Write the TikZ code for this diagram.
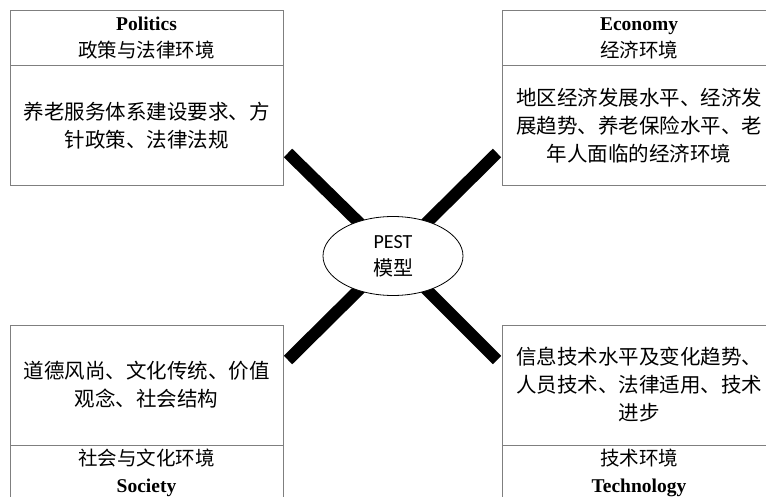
\documentclass[tikz,border=0pt]{standalone}
\usepackage{fontspec}
\setmainfont{Liberation Serif}
\newfontfamily\cjk{Noto Sans CJK SC}
\newfontfamily\pestfont{Carlito}
\usetikzlibrary{shapes.geometric,backgrounds}
\definecolor{boxgray}{HTML}{7F7F7F}

\begin{document}
\begin{tikzpicture}[x=1pt, y=-1pt,
                every node/.style={inner sep=0pt, align=center},
                head_style/.style={draw=boxgray, line width=1pt, minimum width=273pt, minimum height=55pt,
                        font=\fontsize{19.5}{27}\selectfont},
                body_style/.style={draw=boxgray, line width=1pt, minimum width=273pt, minimum height=120pt,
                        font=\cjk\fontsize{20.5}{28}\selectfont},
                bar_style/.style={draw=black, line width=12pt, line cap=butt}]
                \useasboundingbox (0,0) rectangle (766,497);
                \clip (0,0) rectangle (766,497);
                % four boxes
                \node [head_style] (polhead) at (146.5,38.5) {\textbf{Politics}\\{\cjk 政策与法律环境}};
                \node [body_style] (polbody) at (146.5,126) {养老服务体系建设要求、方\\针政策、法律法规};
                \node [head_style] (ecohead) at (639,38.5) {\textbf{Economy}\\{\cjk 经济环境}};
                \node [body_style] (ecobody) at (639,126) {地区经济发展水平、经济发\\展趋势、养老保险水平、老\\年人面临的经济环境};
                \node [body_style] (socbody) at (146.5,385) {道德风尚、文化传统、价值\\观念、社会结构};
                \node [head_style] (sochead) at (146.5,472.5) {{\cjk 社会与文化环境}\\\textbf{Society}};
                \node [body_style] (tecbody) at (639,385) {信息技术水平及变化趋势、\\人员技术、法律适用、技术\\进步};
                \node [head_style] (techead) at (639,472.5) {{\cjk 技术环境}\\\textbf{Technology}};
                % centre
                \node [ellipse, draw, fill=white, line width=0.8pt, minimum width=140pt, minimum height=79pt,
                        font=\fontsize{20}{27}\selectfont] (pest) at (393,256) {{\pestfont PEST}\\{\cjk 模型}};
                \coordinate (tl) at (288,153);
                \coordinate (tr) at (497,153);
                \coordinate (bl) at (288,360);
                \coordinate (br) at (497,360);
                \begin{scope}[on background layer]
                \draw [bar_style] (tl) -- (pest.center);
                \draw [bar_style] (tr) -- (pest.center);
                \draw [bar_style] (bl) -- (pest.center);
                \draw [bar_style] (br) -- (pest.center);
                \end{scope}
            \end{tikzpicture}
\end{document}
